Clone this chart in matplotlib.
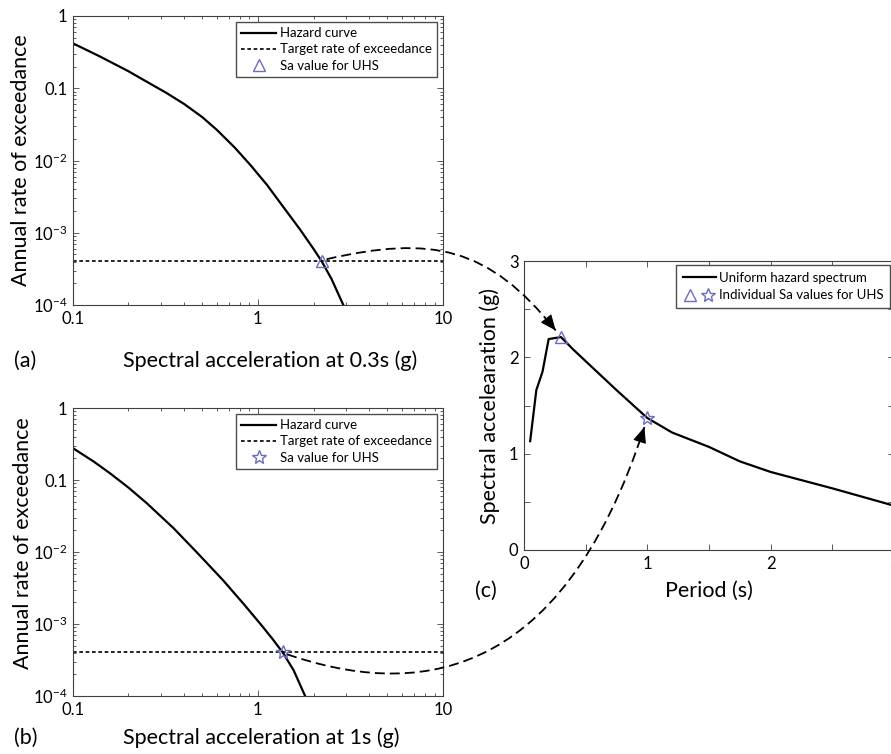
import numpy as np
import matplotlib
matplotlib.use('Agg')
import matplotlib.pyplot as plt
from matplotlib.path import Path
from matplotlib.patches import PathPatch, FancyArrowPatch
from matplotlib.transforms import IdentityTransform
from matplotlib.ticker import LogLocator, NullFormatter
from matplotlib.legend_handler import HandlerTuple
from matplotlib.lines import Line2D

plt.rcParams['font.family'] = ['Lato', 'DejaVu Sans']
plt.rcParams['mathtext.fontset'] = 'custom'
plt.rcParams['mathtext.rm'] = 'Lato'
plt.rcParams['mathtext.it'] = 'Lato:italic'
plt.rcParams['mathtext.bf'] = 'Lato:bold'

# hazard curve, Sa(T=0.3s)
sa_03 = [0.1, 0.14, 0.2, 0.26, 0.32, 0.4, 0.5, 0.6, 0.75, 0.91, 1.12, 1.37,
         1.69, 2.0, 2.21, 2.5, 2.9]
rate_03 = [0.42, 0.276, 0.172, 0.117, 0.0865, 0.0605, 0.040, 0.0266, 0.0151,
           0.0087, 0.0046, 0.00229, 0.00111, 5.96e-4, 4.04e-4, 2.29e-4, 9.9e-5]

# hazard curve, Sa(T=1s)
sa_1 = [0.1, 0.13, 0.159, 0.2, 0.251, 0.35, 0.468, 0.65, 0.85, 1.05, 1.2,
        1.365, 1.56, 1.8]
rate_1 = [0.278, 0.180, 0.124, 0.0785, 0.0477, 0.0215, 0.0099, 0.00403,
          0.00182, 9.5e-4, 6.2e-4, 4.0e-4, 2.28e-4, 1.0e-4]

target_rate = 4.04e-4
uhs_sa_03 = 2.21
uhs_sa_1 = 1.37

# uniform hazard spectrum
period = [0.05, 0.1, 0.15, 0.2, 0.25, 0.3, 0.4, 0.5, 0.6, 0.75, 1.0, 1.2, 1.5,
          1.75, 2.0, 2.5, 3.0]
uhs = [1.13, 1.66, 1.85, 2.19, 2.2, 2.21, 2.08, 1.96, 1.84, 1.66, 1.37, 1.22,
       1.07, 0.92, 0.81, 0.64, 0.46]

W, H = 891, 754
mark_col = '#6b6bbf'
spine_col = '0.25'
label_fs = 15.5
tick_fs = 12

fig = plt.figure(figsize=(W / 100, H / 100), dpi=100)


def axes_px(left, top, right, bottom):
    return fig.add_axes([left / W, 1 - bottom / H, (right - left) / W, (bottom - top) / H])


def frame(ax):
    ax.tick_params(which='both', direction='in', top=True, right=True,
                   labelsize=tick_fs, width=0.6, color=spine_col, pad=4)
    ax.tick_params(which='major', length=4.5)
    ax.tick_params(which='minor', length=2.5)
    for s in ax.spines.values():
        s.set_linewidth(0.8)
        s.set_color(spine_col)


def hazard_axes(ax):
    ax.set_xscale('log')
    ax.set_yscale('log')
    ax.set_xlim(0.1, 10)
    ax.set_ylim(1e-4, 1)
    ax.set_xticks([0.1, 1, 10])
    ax.set_xticklabels(['0.1', '1', '10'])
    ax.set_yticks([1e-4, 1e-3, 1e-2, 0.1, 1])
    ax.set_yticklabels(['$10^{-4}$', '$10^{-3}$', '$10^{-2}$', '0.1', '1'])
    ax.xaxis.set_minor_locator(LogLocator(subs=np.arange(2, 10)))
    ax.yaxis.set_minor_locator(LogLocator(subs=np.arange(2, 10), numticks=20))
    ax.xaxis.set_minor_formatter(NullFormatter())
    ax.yaxis.set_minor_formatter(NullFormatter())
    frame(ax)


leg_kw = dict(fontsize=9.5, frameon=True, fancybox=False, edgecolor='0.3',
              framealpha=1, handlelength=2.7, handletextpad=0.25, borderpad=0.4,
              labelspacing=0.32, borderaxespad=0.45)

# (a)
ax_a = axes_px(72.7, 16, 443, 305)
hazard_axes(ax_a)
ax_a.plot(sa_03, rate_03, color='k', lw=1.6, label='Hazard curve')
ax_a.axhline(target_rate, color='k', lw=1.2, ls=(0, (2.2, 1.6)),
             label='Target rate of exceedance')
ax_a.plot(uhs_sa_03, target_rate, ls='none', marker='^', ms=9, mfc='none',
          mec=mark_col, mew=1, label='Sa value for UHS')
ax_a.legend(loc='upper right', **leg_kw)
ax_a.set_ylabel('Annual rate of exceedance', fontsize=label_fs, va='center')
ax_a.yaxis.set_label_coords(-0.14, 0.5)
ax_a.set_xlabel('Spectral acceleration at 0.3s (g)', fontsize=label_fs, va='baseline')
ax_a.xaxis.set_label_coords(0.533, -(367 - 305) / 289)

# (b)
ax_b = axes_px(72.7, 408, 443, 696)
hazard_axes(ax_b)
ax_b.plot(sa_1, rate_1, color='k', lw=1.6, label='Hazard curve')
ax_b.axhline(target_rate, color='k', lw=1.2, ls=(0, (2.2, 1.6)),
             label='Target rate of exceedance')
ax_b.plot(uhs_sa_1, target_rate, ls='none', marker='*', ms=10, mfc='none',
          mec=mark_col, mew=1, label='Sa value for UHS')
ax_b.legend(loc='upper right', **leg_kw)
ax_b.set_ylabel('Annual rate of exceedance', fontsize=label_fs, va='center')
ax_b.yaxis.set_label_coords(-0.135, 0.53)
ax_b.set_xlabel('Spectral acceleration at 1s (g)', fontsize=label_fs, va='baseline')
ax_b.xaxis.set_label_coords(0.51, -(744 - 696) / 288)

# (c)
ax_c = axes_px(524, 261, 894, 550)
ax_c.plot(period, uhs, color='k', lw=1.6)
tri, = ax_c.plot(period[5], uhs_sa_03, ls='none', marker='^', ms=9, mfc='none',
                 mec=mark_col, mew=1)
star, = ax_c.plot(period[10], uhs_sa_1, ls='none', marker='*', ms=10, mfc='none',
                  mec=mark_col, mew=1)
ax_c.set_xlim(0, 3)
ax_c.set_ylim(0, 3)
ax_c.set_xticks(np.arange(0, 3.01, 0.5))
ax_c.set_xticklabels(['0', '', '1', '', '2', '', '3'])
ax_c.set_yticks(np.arange(0, 3.01, 0.5))
ax_c.set_yticklabels(['0', '', '1', '', '2', '', '3'])
frame(ax_c)
line_h = Line2D([], [], color='k', lw=1.6)
ax_c.legend([line_h, (tri, star)],
            ['Uniform hazard spectrum', 'Individual Sa values for UHS'],
            handler_map={tuple: HandlerTuple(ndivide=None, pad=0.3)},
            loc='upper right',
            **dict(leg_kw, borderaxespad=0.3, handlelength=2.5, borderpad=0.5,
                   labelspacing=0.45))
ax_c.set_ylabel('Spectral accelearation (g)', fontsize=label_fs, va='center')
ax_c.yaxis.set_label_coords(-0.092, 0.5)
ax_c.set_xlabel('Period (s)', fontsize=label_fs, va='baseline')
ax_c.xaxis.set_label_coords(0.501, -(597 - 550) / 289)

fig.text(14 / W, 1 - 367 / H, '(a)', fontsize=label_fs, va='baseline')
fig.text(14 / W, 1 - 744 / H, '(b)', fontsize=label_fs, va='baseline')
fig.text(475 / W, 1 - 597 / H, '(c)', fontsize=label_fs, va='baseline')


# dashed connectors from hazard curves to the spectrum
def connector(p0, c0, c1, marker_xy, shrink):
    p0 = np.asarray(p0)
    end_dir = -np.asarray(c1, float)
    end_dir /= np.hypot(*end_dir)
    p3 = np.asarray(marker_xy) - shrink * end_dir
    verts = [p0, p0 + np.asarray(c0), p3 + np.asarray(c1), p3]
    codes = [Path.MOVETO, Path.CURVE4, Path.CURVE4, Path.CURVE4]
    fig.add_artist(PathPatch(Path(verts, codes), fill=False, color='k', lw=1.3,
                             ls=(0, (5.5, 2.8)), transform=IdentityTransform()))
    fig.add_artist(FancyArrowPatch(p3 - 11 * end_dir, p3,
                                   arrowstyle='-|>,head_length=0.7,head_width=0.3',
                                   mutation_scale=14, color='k', lw=0.8,
                                   shrinkA=0, shrinkB=0,
                                   transform=IdentityTransform()))


start_a = ax_a.transData.transform((uhs_sa_03, target_rate)) + (5, 2)
end_a = ax_c.transData.transform((period[5], uhs_sa_03))
connector(start_a, (105, 24), (-67, 84), end_a, 8.5)

start_b = ax_b.transData.transform((uhs_sa_1, target_rate)) + (4, -2)
end_b = ax_c.transData.transform((period[10], uhs_sa_1))
connector(start_b, (123, -42), (-85, -262), end_b, 9.5)

fig.savefig('out.png', dpi=100)
